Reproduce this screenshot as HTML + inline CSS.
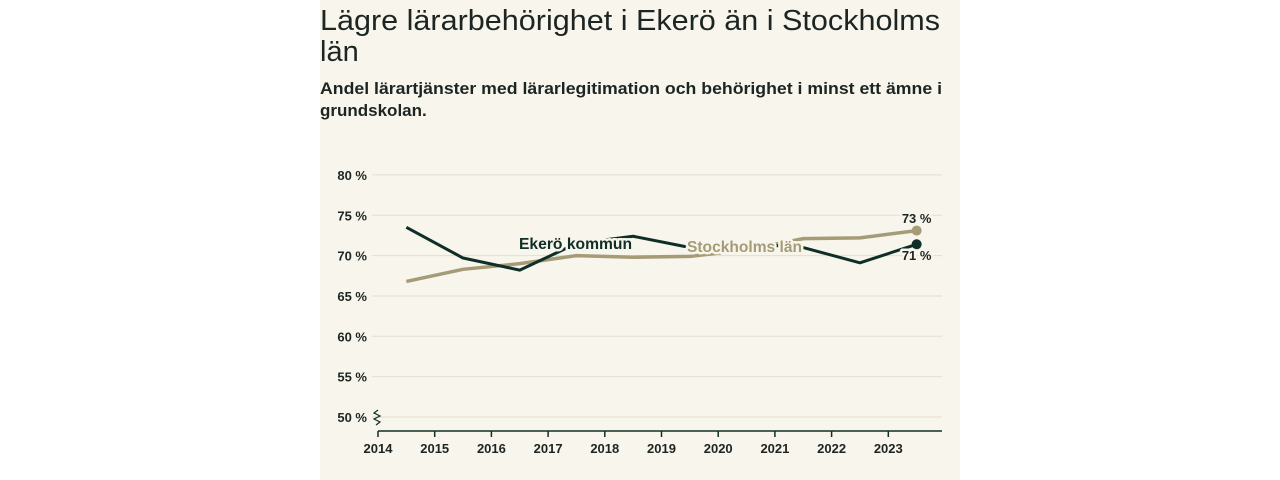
<!DOCTYPE html>
<html><head><meta charset="utf-8"><style>
html,body{margin:0;padding:0;background:#fff;width:1280px;height:480px;overflow:hidden}
svg{display:block}
text{font-family:"Liberation Sans",sans-serif}
</style></head><body>
<svg id="chart" width="1280" height="480" viewBox="0 0 1280 480">
<rect x="320" y="0" width="640" height="480" fill="#f7f5ec"/>
<text x="320" y="30" font-size="29" fill="#1d2523" textLength="620" lengthAdjust="spacingAndGlyphs">Lägre lärarbehörighet i Ekerö än i Stockholms</text>
<text x="320" y="61" font-size="29" fill="#1d2523">län</text>
<text x="320" y="94" font-size="17" font-weight="bold" fill="#1d2523" textLength="622" lengthAdjust="spacingAndGlyphs">Andel lärartjänster med lärarlegitimation och behörighet i minst ett ämne i</text>
<text x="320" y="116" font-size="17" font-weight="bold" fill="#1d2523">grundskolan.</text>
<g id="grid"></g><g id="axes"></g><g id="series"></g><g id="labels"></g>
</svg>
<script>
const years=[2014,2015,2016,2017,2018,2019,2020,2021,2022,2023];
const yTicks=[50,55,60,65,70,75,80];
const pointYears=[2014.5,2015.5,2016.5,2017.5,2018.5,2019.5,2020.5,2021.5,2022.5,2023.5];
const ekero=[73.5,69.7,68.2,71.5,72.4,71.0,71.5,71.0,69.1,71.4];
const stockholm=[66.8,68.3,69.0,70.0,69.8,69.9,70.7,72.1,72.2,73.1];
const NS='http://www.w3.org/2000/svg';
const x=v=>378+(v-2014)*56.7;
const y=v=>417-(v-50)*8.07;
function mk(tag,attrs,parent){const e=document.createElementNS(NS,tag);for(const k in attrs)e.setAttribute(k,attrs[k]);document.getElementById(parent).appendChild(e);return e;}
const dark='#0f2e27', beige='#a59c77', txt='#1d2523', bg='#f7f5ec';
yTicks.forEach(t=>{
 const l=mk('line',{x1:372,x2:942,y1:y(t),y2:y(t),stroke:'#e2dfd2','stroke-width':1},'grid');
 
 
 const tx=mk('text',{x:367,y:y(t)+5,'text-anchor':'end','font-size':13,'font-weight':'bold',fill:txt},'grid');
 tx.textContent=t+' %';
 
 
});
const ax=mk('line',{x1:x(2014),x2:942,y1:431,y2:431,stroke:dark,'stroke-width':1.5},'axes');


const brk=mk('path',{d:'M378 410 l-4 3 l6 3 l-6 3 l6 3 l-4 3',fill:'none',stroke:dark,'stroke-width':1.2},'axes');


years.forEach(v=>{
 const tk=mk('line',{x1:x(v),x2:x(v),y1:431,y2:437,stroke:dark,'stroke-width':1.5},'axes');
 
 
 const tx=mk('text',{x:x(v),y:453,'text-anchor':'middle','font-size':13,'font-weight':'bold',fill:txt},'axes');
 tx.textContent=v;
 
 
});
function pts(arr){return arr.map((v,i)=>x(pointYears[i])+','+y(v)).join(' ');}
const sl=mk('polyline',{points:pts(stockholm),fill:'none',stroke:beige,'stroke-width':3.5,'stroke-linejoin':'round'},'series');


const el=mk('polyline',{points:pts(ekero),fill:'none',stroke:dark,'stroke-width':3,'stroke-linejoin':'round'},'series');


const n=pointYears.length-1;
const sd=mk('circle',{cx:x(pointYears[n]),cy:y(stockholm[n]),r:5,fill:beige},'series');


const ed=mk('circle',{cx:x(pointYears[n]),cy:y(ekero[n]),r:5,fill:dark},'series');


function label(t,xx,yy,col,name,size,anchor,len){
 const a={x:xx,y:yy,'font-size':size,'font-weight':'bold',fill:col,stroke:bg,'stroke-width':5,'paint-order':'stroke','stroke-linejoin':'round','text-anchor':anchor||'start'};
 if(len){a.textLength=len;a.lengthAdjust='spacingAndGlyphs';}
 const e=mk('text',a,'labels');
 e.textContent=t;
 
 
}
label('Ekerö kommun',519,249,dark,'ekero-series-label',16,'start',113);
label('Stockholms län',687,252,beige,'stockholm-series-label',16,'start',115);
label(Math.round(stockholm[n])+' %',x(pointYears[n]),223,txt,'stockholm-end-value',13,'middle');
label(Math.round(ekero[n])+' %',x(pointYears[n]),260,txt,'ekero-end-value',13,'middle');
</script>
</body></html>
